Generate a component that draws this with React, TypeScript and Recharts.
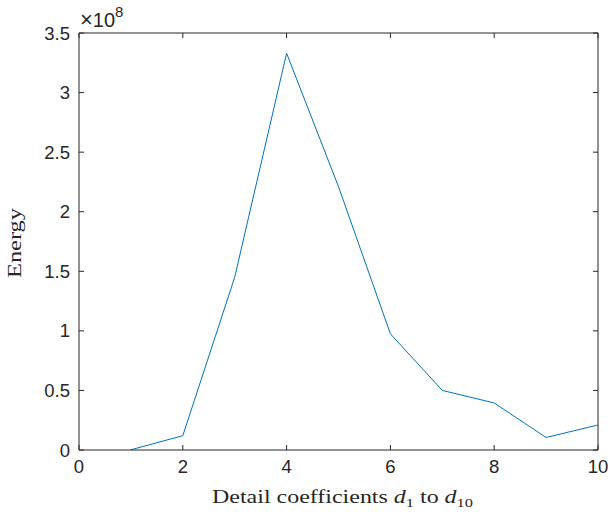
import { LineChart, Line, XAxis, YAxis, ReferenceLine } from 'recharts'

// energy of detail coefficients d1..d10, in units of 1e8
const coefficientIndex = [1, 2, 3, 4, 5, 6, 7, 8, 9, 10]
const energy = [0.002, 0.12, 1.45, 3.33, 2.21, 0.975, 0.5, 0.395, 0.105, 0.21]
const xTicks = [0, 2, 4, 6, 8, 10]
const yTicks = [0, 0.5, 1, 1.5, 2, 2.5, 3, 3.5]

const W = 610
const H = 515
const LEFT = 79
const RIGHT = 598
const TOP = 33
const BOTTOM = 450
const TICK = 5
const X_AXIS_H = 30
const Y_AXIS_W = 40
const AXIS = '#262626'
const TICK_SIZE = 18.5
const TICK_FONT = '"Liberation Sans", Arial, sans-serif'
const LABEL_FONT = '"Liberation Serif", "Times New Roman", serif'

const chartData = coefficientIndex.map((k, i) => ({ k, e: energy[i] }))

function XTick({ x, payload }: any) {
  return (
    <g>
      <line x1={x} x2={x} y1={BOTTOM} y2={BOTTOM - TICK} stroke={AXIS} />
      <line x1={x} x2={x} y1={TOP} y2={TOP + TICK} stroke={AXIS} />
      <text x={x} y={BOTTOM + 23} textAnchor="middle" fontSize={TICK_SIZE} fontFamily={TICK_FONT} fill={AXIS}>
        {payload.value}
      </text>
    </g>
  )
}

function YTick({ y, payload }: any) {
  return (
    <g>
      <line x1={LEFT} x2={LEFT + TICK} y1={y} y2={y} stroke={AXIS} />
      <line x1={RIGHT} x2={RIGHT - TICK} y1={y} y2={y} stroke={AXIS} />
      <text x={LEFT - 9} y={y + 6.5} textAnchor="end" fontSize={TICK_SIZE} fontFamily={TICK_FONT} fill={AXIS}>
        {payload.value}
      </text>
    </g>
  )
}

export default function App() {
  return (
    <div style={{ position: 'absolute', left: 0, top: 0, width: W, height: H, background: '#fff' }}>
      <LineChart
        width={W}
        height={H}
        data={chartData}
        margin={{ top: TOP, right: W - RIGHT, bottom: H - BOTTOM - X_AXIS_H, left: LEFT - Y_AXIS_W }}
      >
        <XAxis
          dataKey="k"
          type="number"
          domain={[0, 10]}
          ticks={xTicks}
          height={X_AXIS_H}
          tickLine={false}
          tick={<XTick />}
          stroke={AXIS}
          interval={0}
        />
        <YAxis
          type="number"
          domain={[0, 3.5]}
          ticks={yTicks}
          width={Y_AXIS_W}
          tickLine={false}
          tick={<YTick />}
          stroke={AXIS}
          interval={0}
        />
        <ReferenceLine y={3.5} stroke={AXIS} />
        <ReferenceLine x={10} stroke={AXIS} />
        <Line
          dataKey="e"
          stroke="#0072BD"
          strokeWidth={1}
          dot={false}
          isAnimationActive={false}
        />
      </LineChart>
      <svg width={W} height={H} style={{ position: 'absolute', left: 0, top: 0, pointerEvents: 'none' }}>
        <text x={80} y={27} fontSize={20} fontFamily={TICK_FONT} fill={AXIS}>
          <tspan fontSize={22}>×</tspan>10
          <tspan dy={-10} fontSize={15}>8</tspan>
        </text>
        <text
          x={21}
          y={243}
          transform="rotate(-90 21 243)"
          textAnchor="middle"
          fontSize={19}
          fontFamily={LABEL_FONT}
          fill={AXIS}
          textLength={70}
          lengthAdjust="spacingAndGlyphs"
        >
          Energy
        </text>
        <text
          x={212}
          y={503}
          fontSize={19}
          fontFamily={LABEL_FONT}
          fill={AXIS}
          textLength={261}
          lengthAdjust="spacingAndGlyphs"
        >
          Detail coefficients{' '}
          <tspan fontStyle="italic">d</tspan>
          <tspan dy={4} fontSize={13}>1</tspan>
          <tspan dy={-4}> to </tspan>
          <tspan fontStyle="italic">d</tspan>
          <tspan dy={4} fontSize={13}>10</tspan>
        </text>
      </svg>
    </div>
  )
}
